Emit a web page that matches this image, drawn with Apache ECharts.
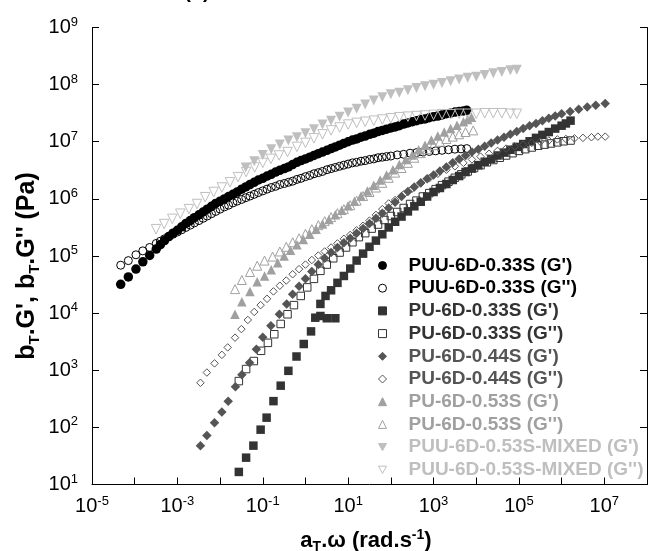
<!DOCTYPE html>
<html>
<head>
<meta charset="utf-8">
<script src="https://cdn.jsdelivr.net/npm/echarts@6/dist/echarts.min.js"></script>
<style>html,body{margin:0;padding:0;background:#fff;}#c{width:650px;height:551px;}</style>
</head>
<body>
<div id="c"></div>
<script>
// ---- data (x = a_T.omega in rad/s, y = modulus in Pa) ----
const seriesNames = ["PUU-6D-0.33S (G')", "PUU-6D-0.33S (G'')", "PU-6D-0.33S (G')", "PU-6D-0.33S (G'')",
  "PU-6D-0.44S (G')", "PU-6D-0.44S (G'')", "PU-6D-0.53S (G')", "PU-6D-0.53S (G'')",
  "PUU-6D-0.53S-MIXED (G')", "PUU-6D-0.53S-MIXED (G'')"];
const xLabelExponents = [-5, -3, -1, 1, 3, 5, 7];
const yLabelExponents = [1, 2, 3, 4, 5, 6, 7, 8, 9];

const puu033Gp = [
[4.7e-5,3.2e4],[7.1e-5,4.3e4],[1.07e-4,5.9e4],[1.55e-4,7.9e4],[2.24e-4,1.02e5],
[3.2e-4,1.32e5],[4.0e-4,1.58e5],[5.0e-4,1.86e5],[6.3e-4,2.19e5],[7.9e-4,2.51e5],
[1.0e-3,2.82e5],[1.26e-3,3.24e5],[1.58e-3,3.72e5],[2.0e-3,4.17e5],[2.5e-3,4.68e5],
[3.2e-3,5.25e5],[4.0e-3,5.89e5],[5.0e-3,6.61e5],[6.3e-3,7.41e5],[7.9e-3,8.32e5],
[0.01,9.12e5],[0.0126,1.0e6],[0.0158,1.10e6],[0.02,1.20e6],[0.025,1.32e6],
[0.032,1.48e6],[0.04,1.62e6],[0.05,1.78e6],[0.063,1.95e6],[0.079,2.14e6],
[0.1,2.29e6],[0.126,2.51e6],[0.158,2.69e6],[0.2,2.95e6],[0.25,3.16e6],
[0.32,3.39e6],[0.4,3.63e6],[0.5,3.98e6],[0.63,4.37e6],[0.79,4.68e6],
[1,5.0e6],[1.26,5.37e6],[1.58,5.75e6],[2.0,6.17e6],[2.5,6.61e6],
[3.2,7.08e6],[4.0,7.59e6],[5.0,8.13e6],[6.3,8.71e6],[7.9,9.33e6],
[10,1.0e7],[12.6,1.07e7],[15.8,1.12e7],[20,1.20e7],[25,1.26e7],
[32,1.35e7],[40,1.41e7],[50,1.51e7],[63,1.58e7],[79,1.66e7],
[100,1.74e7],[126,1.82e7],[158,1.91e7],[200,2.04e7],[250,2.14e7],
[320,2.24e7],[400,2.34e7],[500,2.45e7],[630,2.51e7],[790,2.63e7],
[1000,2.75e7],[1260,2.82e7],[1580,2.95e7],[2000,3.09e7],[2500,3.16e7],
[3200,3.31e7],[4000,3.39e7],[5000,3.47e7],[6000,3.55e7]
];
const puu033Gpp = [
[4.7e-5,6.9e4],[7.1e-5,8.3e4],[1.07e-4,1.05e5],[1.55e-4,1.23e5],[2.24e-4,1.41e5],
[3.2e-4,1.66e5],[4.0e-4,1.82e5],[5.0e-4,2.0e5],[6.3e-4,2.19e5],[7.9e-4,2.40e5],
[1.0e-3,2.63e5],[1.26e-3,2.88e5],[1.58e-3,3.16e5],[2.0e-3,3.47e5],[2.5e-3,3.80e5],
[3.2e-3,4.17e5],[4.0e-3,4.57e5],[5.0e-3,5.01e5],[6.3e-3,5.50e5],[7.9e-3,6.03e5],
[0.01,6.61e5],[0.0126,7.24e5],[0.0158,7.76e5],[0.02,8.51e5],[0.025,9.12e5],
[0.032,9.77e5],[0.04,1.05e6],[0.05,1.12e6],[0.063,1.20e6],[0.079,1.29e6],
[0.1,1.38e6],[0.126,1.48e6],[0.158,1.58e6],[0.2,1.66e6],[0.25,1.78e6],
[0.32,1.86e6],[0.4,1.95e6],[0.5,2.04e6],[0.63,2.19e6],[0.79,2.29e6],
[1,2.45e6],[1.26,2.57e6],[1.58,2.75e6],[2.0,2.88e6],[2.5,3.02e6],
[3.2,3.24e6],[4.0,3.39e6],[5.0,3.55e6],[6.3,3.72e6],[7.9,3.89e6],
[10,4.07e6],[12.6,4.27e6],[15.8,4.37e6],[20,4.57e6],[25,4.68e6],
[32,4.90e6],[40,5.01e6],[50,5.25e6],[63,5.37e6],[79,5.50e6],
[100,5.62e6],[141,5.89e6],[200,6.03e6],[282,6.31e6],[400,6.46e6],
[562,6.61e6],[794,6.76e6],[1120,6.92e6],[1580,7.08e6],[2240,7.24e6],
[3160,7.41e6],[4400,7.5e6],[6000,7.59e6]
];
const pu033Gp = [
[0.0275,16.6],[0.0407,29.5],[0.0603,47.9],[0.0891,91.2],[0.123,148],
[0.178,288],[0.263,537],[0.398,977],[0.617,1740],[0.912,2880],
[1.35,4790],[1.70,8320],[2.24,8910],[3.16,8130],[5.01,8130],
[2.24,1.45e4],[2.95,2.0e4],[3.98,2.51e4],[5.62,3.39e4],[7.94,4.47e4],
[11.2,6.03e4],[15.8,8.32e4],[22.4,1.10e5],[31.6,1.45e5],[44.7,1.86e5],
[63.1,2.40e5],[89.1,3.16e5],[126,3.98e5],[178,4.90e5],[251,6.03e5],
[355,7.41e5],[501,8.91e5],[708,1.10e6],[1000,1.32e6],[1410,1.55e6],
[2000,1.82e6],[2820,2.14e6],[3980,2.51e6],[5620,2.95e6],[7940,3.39e6],
[1.12e4,3.89e6],[1.58e4,4.47e6],[2.24e4,5.01e6],[3.16e4,5.75e6],[4.47e4,6.46e6],
[6.31e4,7.24e6],[8.91e4,8.13e6],[1.26e5,9.12e6],[1.78e5,1.02e7],[2.51e5,1.17e7],
[3.55e5,1.32e7],[5.01e5,1.48e7],[7.08e5,1.70e7],[1.0e6,1.91e7],[1.26e6,2.09e7],
[1.62e6,2.34e7]
];
const pu033Gpp = [
[0.0275,646],[0.0407,1050],[0.0617,1450],[0.0912,2190],[0.132,3020],
[0.186,4270],[0.263,6460],[0.380,9550],[0.537,1.38e4],[0.776,2.0e4],
[1.10,2.82e4],[1.58,3.98e4],[2.24,5.50e4],[3.16,7.08e4],[4.47,9.12e4],
[6.31,1.15e5],[8.91,1.41e5],[12.6,1.74e5],[17.8,2.14e5],[25.1,2.51e5],
[35.5,3.02e5],[50.1,3.55e5],[70.8,4.27e5],[100,5.01e5],[141,5.89e5],
[200,6.92e5],[282,8.13e5],[398,9.33e5],[562,1.10e6],[794,1.26e6],
[1120,1.48e6],[1580,1.74e6],[2240,2.0e6],[3160,2.34e6],[4470,2.69e6],
[6310,3.02e6],[8910,3.47e6],[1.26e4,3.89e6],[1.78e4,4.37e6],[2.51e4,4.79e6],
[3.55e4,5.25e6],[5.01e4,5.75e6],[7.08e4,6.31e6],[1.0e5,6.92e6],[1.41e5,7.41e6],
[2.0e5,7.94e6],[2.82e5,8.51e6],[3.98e5,8.91e6],[5.62e5,9.33e6],[7.94e5,9.77e6],
[1.12e6,1.02e7],[1.62e6,1.05e7]
];
const pu044Gp = [
[3.47e-3,47.9],[4.90e-3,72.4],[7.41e-3,120],[0.0110,186],[0.0155,288],
[0.0229,513],[0.0324,832],[0.0490,1350],[0.0708,2340],[0.1,3800],
[0.155,6030],[0.245,9550],[0.363,1.45e4],[0.501,2.14e4],[0.708,2.95e4],
[1.0,3.98e4],[1.41,5.37e4],[2.0,7.08e4],[2.82,9.12e4],[3.98,1.15e5],
[5.62,1.41e5],[7.94,1.70e5],[11.2,2.04e5],[15.8,2.51e5],[22.4,3.02e5],
[31.6,3.72e5],[44.7,4.57e5],[63.1,5.62e5],[89.1,6.92e5],[126,8.71e5],
[178,1.10e6],[251,1.35e6],[355,1.62e6],[501,1.91e6],[708,2.24e6],
[1000,2.63e6],[1410,3.09e6],[2000,3.63e6],[2820,4.27e6],[3980,5.01e6],
[5620,5.75e6],[7940,6.61e6],[1.12e4,7.41e6],[1.58e4,8.32e6],[2.24e4,9.55e6],
[3.16e4,1.07e7],[4.47e4,1.20e7],[6.31e4,1.35e7],[8.91e4,1.51e7],[1.26e5,1.70e7],
[1.78e5,1.91e7],[2.51e5,2.09e7],[3.55e5,2.34e7],[5.01e5,2.57e7],[7.08e5,2.82e7],
[1.0e6,3.09e7],[1.58e6,3.39e7],[2.51e6,3.72e7],[3.98e6,4.07e7],[6.31e6,4.37e7],
[1.05e7,4.68e7]
];
const pu044Gpp = [
[3.47e-3,603],[4.90e-3,912],[7.41e-3,1320],[0.0110,1860],[0.0151,2510],
[0.0224,3720],[0.0316,5250],[0.0447,7590],[0.0631,1.05e4],[0.0891,1.38e4],
[0.126,1.78e4],[0.178,2.40e4],[0.251,3.02e4],[0.355,3.72e4],[0.501,4.79e4],
[0.708,5.89e4],[1.0,7.08e4],[1.41,8.51e4],[2.0,1.02e5],[2.82,1.20e5],
[3.98,1.41e5],[5.62,1.66e5],[7.94,2.0e5],[11.2,2.34e5],[15.8,2.82e5],
[22.4,3.39e5],[31.6,4.17e5],[44.7,5.25e5],[63.1,6.61e5],[89.1,8.32e5],
[126,9.55e5],[200,1.20e6],[316,1.51e6],[501,1.86e6],[794,2.29e6],
[1260,2.75e6],[2000,3.24e6],[3160,3.72e6],[5010,4.27e6],[7940,4.90e6],
[1.26e4,5.50e6],[2.0e4,6.17e6],[3.16e4,6.92e6],[5.01e4,7.59e6],[7.94e4,8.32e6],
[1.26e5,8.91e6],[2.0e5,9.55e6],[3.16e5,1.0e7],[5.01e5,1.05e7],[7.94e5,1.10e7],
[1.26e6,1.12e7],[2.0e6,1.15e7],[3.16e6,1.17e7],[5.01e6,1.20e7],[7.08e6,1.23e7],
[1.05e7,1.23e7]
];
const pu053Gp = [
[0.0224,9550],[0.0324,1.58e4],[0.0501,2.40e4],[0.0741,3.55e4],[0.110,4.47e4],
[0.158,5.75e4],[0.224,7.59e4],[0.316,1.0e5],[0.447,1.26e5],[0.631,1.58e5],
[0.891,1.95e5],[1.26,2.40e5],[1.78,2.95e5],[2.51,3.63e5],[3.55,4.37e5],
[5.01,5.25e5],[7.08,6.31e5],[10,7.59e5],[14.1,9.12e5],[20,1.12e6],
[28.2,1.38e6],[39.8,1.74e6],[56.2,2.14e6],[79.4,2.63e6],[112,3.24e6],
[158,3.98e6],[224,4.90e6],[316,5.89e6],[447,7.24e6],[631,8.71e6],
[891,1.07e7],[1260,1.26e7],[1780,1.48e7],[2510,1.70e7],[3550,1.95e7],
[5010,2.24e7],[6310,2.45e7],[7760,2.69e7]
];
const pu053Gpp = [
[0.0224,2.63e4],[0.0324,3.80e4],[0.0501,5.25e4],[0.0741,6.76e4],[0.110,8.32e4],
[0.170,9.77e4],[0.251,1.20e5],[0.355,1.45e5],[0.501,1.74e5],[0.708,2.04e5],
[1.0,2.45e5],[1.41,2.95e5],[2.0,3.47e5],[2.82,4.07e5],[3.98,4.79e5],
[5.62,5.62e5],[7.94,6.61e5],[11.2,7.76e5],[15.8,9.33e5],[22.4,1.12e6],
[31.6,1.32e6],[44.7,1.58e6],[63.1,1.91e6],[89.1,2.34e6],[126,2.88e6],
[178,3.47e6],[251,4.27e6],[355,5.25e6],[501,6.31e6],[708,7.41e6],
[1000,8.71e6],[1410,1.0e7],[2000,1.12e7],[2820,1.23e7],[3980,1.35e7],
[5620,1.48e7],[8510,1.58e7]
];
const mixGp = [
[0.0398,3.55e6],[0.0631,4.57e6],[0.1,5.89e6],[0.158,7.41e6],[0.251,8.91e6],
[0.398,1.05e7],[0.631,1.20e7],[1.0,1.41e7],[1.58,1.66e7],[2.51,2.0e7],
[3.98,2.34e7],[6.31,2.75e7],[10,3.24e7],[15.8,3.80e7],[25.1,4.47e7],
[39.8,5.25e7],[63.1,6.03e7],[100,6.76e7],[158,7.24e7],[251,7.94e7],
[398,8.71e7],[631,9.33e7],[1000,1.0e8],[1580,1.07e8],[2510,1.15e8],
[3980,1.23e8],[6310,1.32e8],[1.0e4,1.38e8],[1.58e4,1.48e8],[2.51e4,1.58e8],
[3.98e4,1.66e8],[6.31e4,1.78e8],[8.91e4,1.82e8]
];
const mixGpp = [
[3.16e-4,2.95e5],[4.90e-4,3.63e5],[7.59e-4,4.47e5],[1.17e-3,5.50e5],[1.86e-3,6.61e5],
[2.88e-3,8.13e5],[4.47e-3,1.07e6],[7.08e-3,1.32e6],[0.0110,1.58e6],[0.0170,1.95e6],
[0.0263,2.40e6],[0.0407,2.95e6],[0.0646,3.55e6],[0.1,4.27e6],[0.155,5.01e6],
[0.240,5.75e6],[0.380,6.61e6],[0.631,8.13e6],[1.0,9.55e6],[1.58,1.15e7],
[2.51,1.35e7],[3.98,1.58e7],[6.31,1.78e7],[10,2.0e7],[15.8,2.14e7],
[25.1,2.24e7],[39.8,2.34e7],[63.1,2.45e7],[100,2.57e7],[158,2.69e7],
[251,2.75e7],[398,2.82e7],[631,2.88e7],[1000,2.95e7],[1580,3.02e7],
[2510,3.02e7],[3980,3.09e7],[6310,3.09e7],[1.0e4,3.09e7],[1.58e4,3.16e7],
[2.51e4,3.16e7],[3.98e4,3.16e7],[6.31e4,3.09e7],[8.91e4,3.09e7]
];

const seriesData = [puu033Gp, puu033Gpp, pu033Gp, pu033Gpp, pu044Gp, pu044Gpp, pu053Gp, pu053Gpp, mixGp, mixGpp];

// ---- styles ----
const FONT = '"Liberation Sans", Arial, sans-serif';
const colors = ['#000000', '#000000', '#333333', '#333333', '#555555', '#555555', '#a0a0a0', '#a0a0a0', '#bfbfbf', '#bfbfbf'];
const symbols = ['circle', 'circle', 'rect', 'rect', 'diamond', 'diamond', 'triangle', 'triangle', 'triangle', 'triangle'];
const rotates = [0, 0, 0, 0, 0, 0, 0, 0, 180, 180];
const filled = [true, false, true, false, true, false, true, false, true, false];
const sizes = [9.5, 8, 8.5, 7.5, 9.5, 7.5, 9.5, 9, 10, 9.5];
const INV_TRI = 'path://M0,0L10,0L5,9Z';

const series = seriesNames.map((name, i) => ({
  name: name,
  type: 'scatter',
  data: seriesData[i],
  symbol: symbols[i],
  symbolRotate: rotates[i],
  symbolSize: sizes[i],
  silent: true,
  itemStyle: filled[i]
    ? { color: colors[i], borderColor: colors[i], borderWidth: 0, opacity: 1 }
    : { color: 'rgba(255,255,255,0)', borderColor: colors[i], borderWidth: 1, opacity: 1 }
}));

const richTick = {
  b: { fontSize: 20, lineHeight: 24, fontFamily: FONT, color: '#000' },
  s: { fontSize: 13, lineHeight: 12, verticalAlign: 'top', fontFamily: FONT, color: '#000' }
};

function xFmt(v) {
  const e = Math.round(Math.log10(v));
  if (xLabelExponents.indexOf(e) < 0) return '';
  return '{b|10}{s|' + e + '}';
}
function yFmt(v) {
  const e = Math.round(Math.log10(v));
  if (yLabelExponents.indexOf(e) < 0) return '';
  return '{b|10}{s|' + e + '}';
}

const chart = echarts.init(document.getElementById('c'), null, { renderer: 'canvas' });
chart.setOption({
  animation: false,
  backgroundColor: '#fff',
  grid: { left: 92, top: 27.5, width: 562, height: 457, containLabel: false },
  xAxis: {
    type: 'log', logBase: 10, min: 1e-5, max: 1e8, interval: 1,
    axisLine: { show: true, lineStyle: { color: '#000', width: 1 } },
    axisTick: { show: true, inside: true, length: 7, lineStyle: { color: '#000' } },
    minorTick: { show: false },
    splitLine: { show: false },
    axisLabel: { show: true, margin: 10, formatter: xFmt, rich: richTick, showMinLabel: true, showMaxLabel: true, hideOverlap: false, interval: 0 }
  },
  yAxis: [{
    type: 'log', logBase: 10, min: 10, max: 1e9, interval: 1, position: 'left',
    axisLine: { show: true, lineStyle: { color: '#000', width: 1 } },
    axisTick: { show: true, inside: true, length: 7, lineStyle: { color: '#000' } },
    splitLine: { show: false },
    axisLabel: { show: true, margin: 14, formatter: yFmt, rich: richTick, showMinLabel: true, showMaxLabel: true, interval: 0 }
  }, {
    type: 'log', logBase: 10, min: 10, max: 1e9, interval: 1, position: 'right',
    axisLine: { show: true, lineStyle: { color: '#000', width: 1 } },
    axisTick: { show: true, inside: true, length: 7, lineStyle: { color: '#000' } },
    splitLine: { show: false },
    axisLabel: { show: false }
  }],
  legend: {
    orient: 'vertical', left: 378, top: 256, padding: 0,
    itemWidth: 8, itemHeight: 8, itemGap: 3.7,
    selectedMode: false,
    itemStyle: { borderWidth: 1 },
    textStyle: { fontSize: 19, fontWeight: 'bold', fontFamily: FONT, lineHeight: 18, padding: [0, 0, 0, 17] },
    data: seriesNames.map((n, i) => {
      const item = { name: n, textStyle: { color: colors[i] } };
      if (rotates[i] === 180) { item.icon = INV_TRI; }
      return item;
    })
  },
  graphic: [
    { type: 'text', x: 197, y: 2, silent: true,
      style: { text: '(b)', font: 'bold 20px ' + FONT, fill: '#000', align: 'center', verticalAlign: 'bottom' } },
    { type: 'text', x: 27, y: 266, rotation: Math.PI / 2, silent: true,
      style: { text: "{t|b}{s|T}{t|.G', b}{s|T}{t|.G'' (Pa)}", align: 'center', verticalAlign: 'middle',
        rich: {
          t: { font: 'bold 25px ' + FONT, fill: '#000', lineHeight: 30 },
          s: { font: 'bold 15px ' + FONT, fill: '#000', lineHeight: 13, verticalAlign: 'bottom' }
        } } },
    { type: 'text', x: 366, y: 541, silent: true,
      style: { text: "{t|a}{s|T}{t|.ω (rad.s}{p|-1}{t|)}", align: 'center', verticalAlign: 'middle',
        rich: {
          t: { font: 'bold 22px ' + FONT, fill: '#000', lineHeight: 26 },
          s: { font: 'bold 14px ' + FONT, fill: '#000', lineHeight: 12, verticalAlign: 'bottom' },
          p: { font: 'bold 14px ' + FONT, fill: '#000', lineHeight: 12, verticalAlign: 'top' }
        } } }
  ],
  series: series
});
</script>
</body>
</html>
